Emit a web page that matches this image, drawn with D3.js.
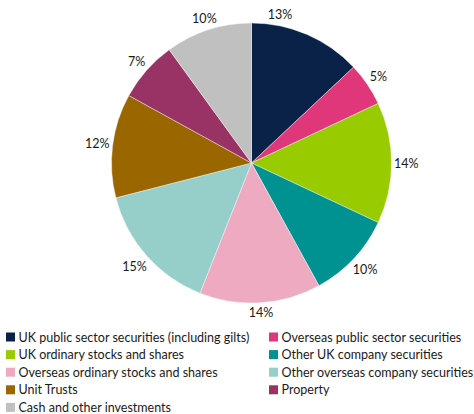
<!DOCTYPE html>
<html>
<head>
<meta charset="utf-8">
<script src="https://cdn.jsdelivr.net/npm/d3@7/dist/d3.min.js"></script>
<style>
  html, body { margin: 0; padding: 0; background: #ffffff; }
  svg { display: block; }
  text { font-family: Lato, "Open Sans", "Liberation Sans", sans-serif; fill: #1a1a1a; }
</style>
</head>
<body>
<svg id="chart" width="474" height="414"></svg>
<script>
const categories = [
  "UK public sector securities (including gilts)",
  "Overseas public sector securities",
  "UK ordinary stocks and shares",
  "Other UK company securities",
  "Overseas ordinary stocks and shares",
  "Other overseas company securities",
  "Unit Trusts",
  "Property",
  "Cash and other investments"
];
const values = [13, 5, 14, 10, 14, 15, 12, 7, 10];
const colors = ["#0a2248", "#e0367a", "#99cc00", "#009191", "#eeaac1", "#96ceca", "#996600", "#993366", "#c0c0c0"];
const labels = values.map(v => v + "%");

const svg = d3.select("#chart");
const cx = 251.5, cy = 163, R = 140;

// font size fitted so the longest legend entry spans like the reference
const probe = svg.append("text").attr("font-size", 13).text(categories[0]);
const measured = probe.node().getComputedTextLength();
probe.remove();
const fs = Math.min(14, 13 * 231 / measured);

const pie = d3.pie().value(d => d).sort(null);
const arcs = pie(values);
const arc = d3.arc().innerRadius(0).outerRadius(R);

const g = svg.append("g").attr("transform", `translate(${cx},${cy})`);
g.selectAll("path.slice")
  .data(arcs)
  .join("path")
  .attr("class", "slice")
  .attr("d", arc)
  .attr("fill", (d, i) => colors[i])
  .attr("stroke", "#ffffff")
  .attr("stroke-width", 0.4);

// outside-end labels, box edge a small gap from the arc
const nudge = { 0: -12.5 * Math.PI / 180 };
g.selectAll("text.lbl")
  .data(arcs)
  .join("text")
  .attr("class", "lbl")
  .attr("font-size", fs)
  .attr("text-anchor", "middle")
  .attr("dominant-baseline", "central")
  .text((d, i) => labels[i])
  .each(function (d, i) {
    const a = (d.startAngle + d.endAngle) / 2 + (nudge[i] || 0);
    const w = this.getComputedTextLength();
    const h = 13;
    const r = R + 2.5 + Math.abs(Math.sin(a)) * w / 2 + Math.abs(Math.cos(a)) * h / 2;
    d3.select(this)
      .attr("x", r * Math.sin(a))
      .attr("y", -r * Math.cos(a));
  });

// legend
const colX = [6, 269];
const rowY0 = 337, rowStep = 17.6;
const leg = svg.append("g");
const items = leg.selectAll("g.item")
  .data(categories)
  .join("g")
  .attr("class", "item")
  .attr("transform", (d, i) => `translate(${colX[i % 2]},${rowY0 + Math.floor(i / 2) * rowStep})`);
items.append("rect")
  .attr("x", 0).attr("y", -4.5)
  .attr("width", 9).attr("height", 9)
  .attr("fill", (d, i) => colors[i]);
items.append("text")
  .attr("x", 12.5)
  .attr("y", 0)
  .attr("dominant-baseline", "central")
  .attr("font-size", fs)
  .text(d => d);
</script>
</body>
</html>
